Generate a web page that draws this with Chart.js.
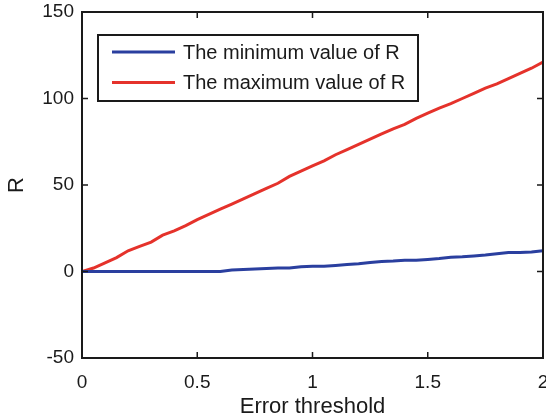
<!DOCTYPE html>
<html>
<head>
<meta charset="utf-8">
<script src="https://cdn.jsdelivr.net/npm/chart.js@4"></script>
<style>
  html, body { margin: 0; padding: 0; background: #fff; }
  #wrap { width: 546px; height: 420px; }
</style>
</head>
<body>
<div id="wrap"><canvas id="chart" width="546" height="420"></canvas></div>
<script>
// Error threshold values (x axis)
const thresholds = [0, 0.05, 0.1, 0.15, 0.2, 0.25, 0.3, 0.35, 0.4, 0.45, 0.5,
    0.55, 0.6, 0.65, 0.7, 0.75, 0.8, 0.85, 0.9, 0.95, 1.0,
    1.05, 1.1, 1.15, 1.2, 1.25, 1.3, 1.35, 1.4, 1.45, 1.5,
    1.55, 1.6, 1.65, 1.7, 1.75, 1.8, 1.85, 1.9, 1.95, 2.0];

// R values
const minR = [0, 0, 0, 0, 0, 0, 0, 0, 0, 0, 0,
    0, 0, 0.8, 1.2, 1.5, 1.8, 2, 2, 2.8, 3,
    3, 3.5, 4, 4.5, 5.2, 5.8, 6, 6.5, 6.5, 7,
    7.5, 8.3, 8.5, 9, 9.5, 10.2, 11, 11, 11.3, 12];

const maxR = [0, 2, 5, 8, 12, 14.5, 17, 21, 23.5, 26.5, 30,
    33, 36, 39, 42, 45, 48, 51, 55, 58, 61,
    64, 67.5, 70.5, 73.5, 76.5, 79.5, 82.5, 85, 88.5, 91.5,
    94.5, 97, 100, 103, 106, 108.5, 111.5, 114.5, 117.5, 121];

const seriesLabels = ['The minimum value of R', 'The maximum value of R'];
const xTicks = [0, 0.5, 1, 1.5, 2];
const yTicks = [-50, 0, 50, 100, 150];

const fontFamily = '"Liberation Sans", Arial, sans-serif';

// Box, inward ticks on all four sides and the legend box (MATLAB look)
const matlabFrame = {
    id: 'matlabFrame',
    afterDatasetsDraw(chart) {
        const { ctx, chartArea: a, scales: { x, y } } = chart;
        ctx.save();
        ctx.strokeStyle = '#1a1a1a';
        ctx.lineWidth = 1.5;
        ctx.beginPath();
        xTicks.forEach(v => {
            const px = x.getPixelForValue(v);
            ctx.moveTo(px, a.bottom); ctx.lineTo(px, a.bottom - 6);
            ctx.moveTo(px, a.top); ctx.lineTo(px, a.top + 6);
        });
        yTicks.forEach(v => {
            const py = y.getPixelForValue(v);
            ctx.moveTo(a.left, py); ctx.lineTo(a.left + 6, py);
            ctx.moveTo(a.right, py); ctx.lineTo(a.right - 6, py);
        });
        ctx.stroke();

        ctx.lineWidth = 2;
        ctx.strokeRect(a.left, a.top, a.right - a.left, a.bottom - a.top);

        // legend
        const lx = 98, ly = 35, lw = 320, lh = 66;
        ctx.fillStyle = '#fff';
        ctx.fillRect(lx, ly, lw, lh);
        ctx.lineWidth = 2;
        ctx.strokeRect(lx, ly, lw, lh);
        ctx.font = '20px ' + fontFamily;
        ctx.textBaseline = 'middle';
        ctx.textAlign = 'left';
        chart.data.datasets.forEach((ds, i) => {
            const rowY = 52 + i * 30.5;
            ctx.strokeStyle = ds.borderColor;
            ctx.lineWidth = 3;
            ctx.beginPath();
            ctx.moveTo(112, rowY);
            ctx.lineTo(175, rowY);
            ctx.stroke();
            ctx.fillStyle = '#1a1a1a';
            ctx.fillText(ds.label, 183, rowY + 1);
        });
        ctx.restore();
    }
};

const ctx = document.getElementById('chart').getContext('2d');
new Chart(ctx, {
    type: 'line',
    data: {
        datasets: [{
            label: seriesLabels[0],
            data: thresholds.map((t, i) => ({ x: t, y: minR[i] })),
            borderColor: '#2a3f9f',
            borderWidth: 3,
            pointRadius: 0,
            tension: 0,
            fill: false
        }, {
            label: seriesLabels[1],
            data: thresholds.map((t, i) => ({ x: t, y: maxR[i] })),
            borderColor: '#e5322b',
            borderWidth: 3,
            pointRadius: 0,
            tension: 0,
            fill: false
        }]
    },
    options: {
        responsive: false,
        animation: false,
        layout: { padding: { left: 0, right: 3, top: 12, bottom: 0 } },
        scales: {
            x: {
                type: 'linear',
                min: 0,
                max: 2,
                afterBuildTicks: scale => { scale.ticks = xTicks.map(v => ({ value: v })); },
                afterFit: scale => {
                    scale.height = 62;
                    scale.paddingLeft = 0;
                    scale.paddingRight = 0;
                },
                grid: { display: false, drawTicks: false },
                border: { display: false },
                ticks: {
                    padding: 13,
                    color: '#1a1a1a',
                    font: { family: fontFamily, size: 19 },
                    callback: v => String(v)
                },
                title: {
                    display: true,
                    text: 'Error threshold',
                    color: '#1a1a1a',
                    font: { family: fontFamily, size: 22 },
                    padding: { top: 0, bottom: 0 }
                }
            },
            y: {
                min: -50,
                max: 150,
                afterBuildTicks: scale => { scale.ticks = yTicks.map(v => ({ value: v })); },
                afterFit: scale => {
                    scale.width = 82;
                    scale.paddingTop = 0;
                    scale.paddingBottom = 0;
                },
                grid: { display: false, drawTicks: false },
                border: { display: false },
                ticks: {
                    padding: 8,
                    color: '#1a1a1a',
                    font: { family: fontFamily, size: 19 },
                    callback: v => String(v)
                },
                title: {
                    display: true,
                    text: 'R',
                    color: '#1a1a1a',
                    font: { family: fontFamily, size: 22 },
                    padding: { top: 4, bottom: 0 }
                }
            }
        },
        plugins: {
            legend: { display: false },
            tooltip: { enabled: false }
        }
    },
    plugins: [matlabFrame]
});
</script>
</body>
</html>
